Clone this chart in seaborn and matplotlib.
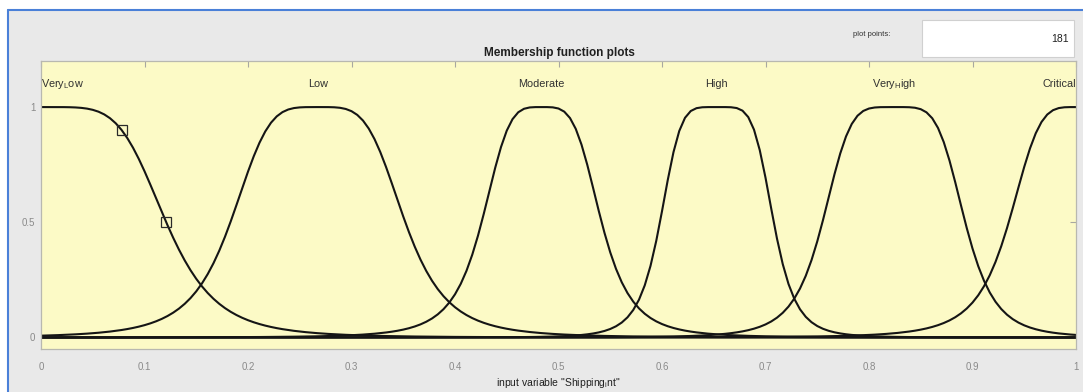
import numpy as np
import pandas as pd
import matplotlib
matplotlib.use("Agg")
import matplotlib.pyplot as plt
import seaborn as sns
from matplotlib.patches import Rectangle
from matplotlib.lines import Line2D

# ---- data: generalized bell membership functions (a, b, c) ----
mf_names = ["Very_Low", "Low", "Moderate", "High", "Very_High", "Critical"]
mf_labels = [r"Very$_{\mathrm{L}}$ow", "Low", "Moderate", "High",
             r"Very$_{\mathrm{H}}$igh", "Critical"]
mf_a = [0.121, 0.0845, 0.058, 0.055, 0.069, 0.065]
mf_b = [2.5, 2.1, 2.0, 2.6, 2.4, 2.0]
mf_c = [0.0, 0.2675, 0.4837, 0.653, 0.824, 1.0]
plot_points = 181
marker_x = [0.078, 0.121]
marker_y = [0.901, 0.5]
x_ticks = [0, 0.1, 0.2, 0.3, 0.4, 0.5, 0.6, 0.7, 0.8, 0.9, 1]
x_tick_labels = ["0", "0.1", "0.2", "0.3", "0.4", "0.5", "0.6", "0.7", "0.8", "0.9", "1"]
y_ticks = [0, 0.5, 1]
y_tick_labels = ["0", "0.5", "1"]

x = np.linspace(0, 1, plot_points)
frames = []
for name, a, b, c in zip(mf_names, mf_a, mf_b, mf_c):
    y = 1.0 / (1.0 + np.abs((x - c) / a) ** (2 * b))
    frames.append(pd.DataFrame({"x": x, "mu": y, "mf": name}))
df = pd.concat(frames, ignore_index=True)

sns.set_style("white")
plt.rcParams["font.family"] = ["Liberation Sans", "DejaVu Sans"]
plt.rcParams["mathtext.fontset"] = "custom"
plt.rcParams["mathtext.rm"] = "Liberation Sans"
plt.rcParams["mathtext.it"] = "Liberation Sans"

fig = plt.figure(figsize=(10.83, 3.92), dpi=100)
fig.patch.set_facecolor("#e9e9e9")

# white strip at top + blue window border
fig.add_artist(Rectangle((0, 1 - 10 / 392), 1, 10 / 392, transform=fig.transFigure,
                         facecolor="white", edgecolor="none", zorder=0))
fig.add_artist(Rectangle((0, 0), 8 / 1083, 1, transform=fig.transFigure,
                         facecolor="white", edgecolor="none", zorder=0))
fig.add_artist(Line2D([8 / 1083, 1], [1 - 10 / 392, 1 - 10 / 392], transform=fig.transFigure,
                      color="#4a80d8", lw=1.5))
fig.add_artist(Line2D([8 / 1083, 8 / 1083], [0, 1 - 10 / 392], transform=fig.transFigure,
                      color="#4a80d8", lw=1.5))

ax = fig.add_axes([41 / 1083, 1 - 349 / 392, (1076 - 41) / 1083, (349 - 61) / 392])
ax.set_facecolor("#fcfac6")

sns.lineplot(data=df, x="x", y="mu", units="mf", estimator=None, color="#151515",
             lw=1.5, ax=ax, legend=False)
ax.plot(marker_x, marker_y, linestyle="none", marker="s", ms=7, mfc="none",
        mec="#2a2a2a", mew=0.9)

ax.set_xlim(0, 1)
ax.set_ylim(-0.05, 1.2)
ax.set_xticks(x_ticks)
ax.set_xticklabels(x_tick_labels)
ax.set_yticks(y_ticks)
ax.set_yticklabels(y_tick_labels)
ax.tick_params(axis="x", direction="in", length=4, width=0.8, color="#a8a8a0",
               top=True, labelsize=7, labelcolor="#8a8a8a", pad=9)
ax.tick_params(axis="y", direction="in", length=4, width=0.8, color="#a8a8a0",
               right=True, labelsize=7, labelcolor="#8a8a8a", pad=4)
for s in ax.spines.values():
    s.set_color("#b8b8b0")
    s.set_linewidth(0.9)

ax.set_xlabel('input variable "Shipping$_{\\mathrm{i}}$nt"', fontsize=7.5,
              color="#202020", labelpad=4)
ax.xaxis.set_label_coords(0.5, -0.095)
ax.set_ylabel("")

for i, (lab, c) in enumerate(zip(mf_labels, mf_c)):
    ha = "center"
    if i == 0:
        ha = "left"
    elif i == len(mf_labels) - 1:
        ha = "right"
    ax.text(c, 1.10, lab, ha=ha, va="center", fontsize=7.8, color="#303030")

fig.text(559 / 1083, 1 - 53 / 392, "Membership function plots", ha="center", va="center",
         fontsize=8.5, fontweight="bold", color="#202020")

# plot points box
fig.add_artist(Rectangle((922 / 1083, 1 - 57 / 392), (1074 - 922) / 1083, 37 / 392,
                         transform=fig.transFigure, facecolor="white",
                         edgecolor="#d0d0d0", lw=0.8))
fig.text(872 / 1083, 1 - 34 / 392, "plot points:", ha="center", va="center",
         fontsize=5.5, color="#303030")
fig.text(1069 / 1083, 1 - 39 / 392, str(plot_points), ha="right", va="center",
         fontsize=7.5, color="#202020")

fig.savefig("out.png", dpi=100, facecolor=fig.get_facecolor())
